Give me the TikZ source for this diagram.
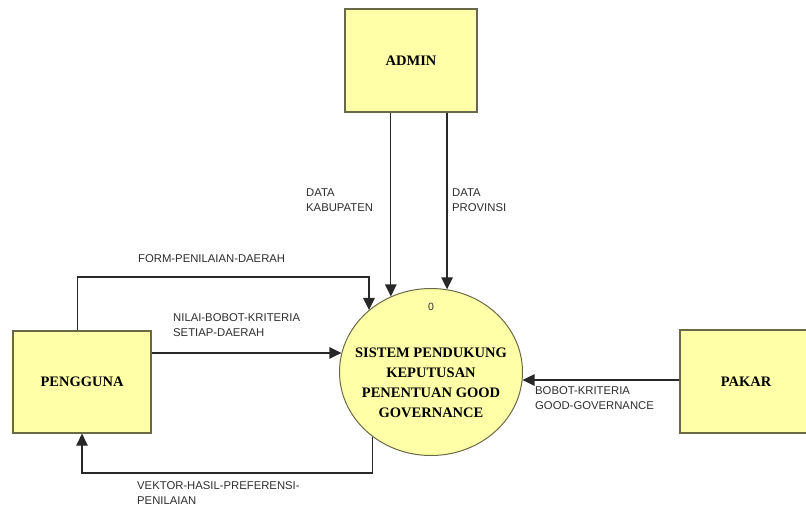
\documentclass[tikz,border=0pt]{standalone}
\usepackage{fontspec}
\setmainfont{Liberation Serif}
\newfontfamily\labelfont{Liberation Sans}
\usetikzlibrary{shapes.geometric,arrows.meta}
\definecolor{entityfill}{RGB}{255,255,168}
\definecolor{entityline}{RGB}{105,105,70}
\definecolor{flowline}{RGB}{40,40,40}
\definecolor{flowtext}{RGB}{45,45,45}
\tikzset{
  entity/.style={draw=entityline, line width=1.3pt, fill=entityfill,
    inner sep=0pt, font=\fontsize{14.5}{17}\selectfont\bfseries},
  process/.style={ellipse, draw=entityline, line width=1pt, fill=entityfill,
    minimum width=183pt, minimum height=167pt, inner sep=0pt},
  processtext/.style={align=center, inner sep=0pt,
    font=\fontsize{14.5}{20}\selectfont\bfseries},
  flow/.style={draw=flowline, line width=1.2pt,
    -{Triangle[length=12pt,width=11.5pt]}},
  flowlabel/.style={anchor=north west, inner sep=0pt, align=left,
    text=flowtext, font=\labelfont\fontsize{11.3}{15}\selectfont}
}
\begin{document}
\begin{tikzpicture}[x=1pt, y=-1pt]
\useasboundingbox (0,0) rectangle (806,509);
\clip (0,0) rectangle (806,509);

% external entities and the process
\node[entity, minimum width=132pt, minimum height=103pt] (admin) at (411,60.5) {ADMIN};
\node[entity, minimum width=138pt, minimum height=102pt] (pengguna) at (82,382) {PENGGUNA};
\node[entity, minimum width=132pt, minimum height=103pt] (pakar) at (746,381.5) {PAKAR};
\node[process] (sys) at (431,372) {};
\node[processtext] (systext) at (431,383) {SISTEM PENDUKUNG\\KEPUTUSAN\\PENENTUAN GOOD\\GOVERNANCE};
\node[font=\labelfont\fontsize{10.5}{12}\selectfont, text=flowtext] (pnum) at (431,307) {0};

% bend levels of the routed flows
\coordinate (formtop) at (0,277);
\coordinate (vekbot) at (0,473);

% data flows
\draw[flow] (admin.south -| sys.118.7) -- (sys.118.7);
\draw[flow] (admin.south -| sys.79.7) -- (sys.79.7);
\draw[flow] ([xshift=-4.5pt]pengguna.north) |- (formtop -| sys.135.9) -- (sys.135.9);
\draw[flow] (pengguna.east |- sys.168) -- (sys.168);
\draw[flow] (sys.228.1) |- (vekbot -| pengguna.south) -- (pengguna.south);
\draw[flow] (pakar.west |- sys.355.6) -- (sys.355.6);

% flow labels
\node[flowlabel] (lkab) at (306,189) {DATA\\KABUPATEN};
\node[flowlabel] (lprov) at (452,189) {DATA\\PROVINSI};
\node[flowlabel] (lform) at (138,254) {FORM-PENILAIAN-DAERAH};
\node[flowlabel] (lnilai) at (173,313) {NILAI-BOBOT-KRITERIA\\SETIAP-DAERAH};
\node[flowlabel] (lbobot) at (535,386) {BOBOT-KRITERIA\\GOOD-GOVERNANCE};
\node[flowlabel] (lvektor) at (137,481) {VEKTOR-HASIL-PREFERENSI-\\PENILAIAN};
\end{tikzpicture}
\end{document}
